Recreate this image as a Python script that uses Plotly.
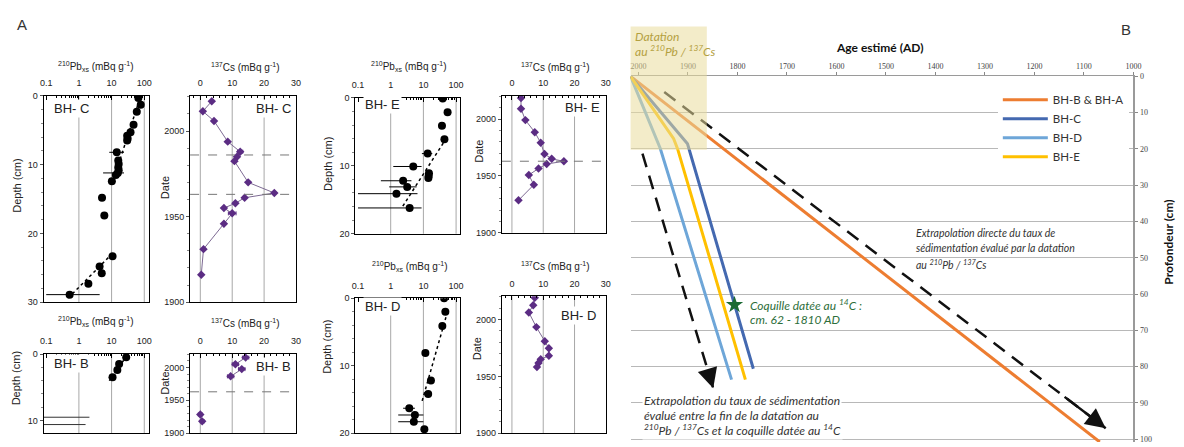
import plotly.graph_objects as go

W, H = 1184, 447

# ---------------- Panel A data ----------------
# BH-C, 210Pb excess (mBq/g) vs depth (cm)
pbC_depth = [0.3, 1.3, 2.3, 4.2, 5.3, 5.8, 6.2, 6.5, 8.2, 9.4, 9.9, 10.4, 10.8, 11.2, 11.5, 12.4, 14.8, 17.4, 23.3, 24.8, 25.8, 27.3, 28.9]
pbC_val = [66, 78, 59, 47, 38, 30, 31, 30, 14.4, 16, 16.5, 16, 16.5, 15.5, 13.5, 10.2, 5.1, 6.0, 10.7, 4.3, 5.0, 1.95, 0.52]
pbC_elo = [0, 0, 0, 0, 0, 0, 0, 0, 5.9, 3, 3, 3, 3, 10, 2, 1, 1.2, 0.5, 1, 0.6, 0.6, 0.3, 0.42]
pbC_ehi = [0, 0, 0, 0, 0, 0, 0, 0, 9.6, 4, 4, 4, 4, 8.5, 3, 1, 1.2, 0.5, 1, 0.6, 0.6, 0.3, 3.8]
pbC_fit_val = [72, 10.7, None, 10.7, 0.47]
pbC_fit_depth = [0.5, 12.6, None, 22.9, 29.4]
# BH-C, 137Cs (mBq/g) vs date
csC_year = [2017.4, 2011.5, 2005.9, 1993.8, 1987.9, 1985, 1982.4, 1970, 1963.8, 1961, 1957.8, 1955, 1951.9, 1945.8, 1931, 1916]
csC_val = [3.6, 0.8, 4.3, 8.6, 12.5, 11.5, 10.7, 15, 23.2, 13.9, 11, 7.4, 10, 7.4, 1.0, 0.3]
csC_err = [0, 0, 0, 0, 0.8, 0, 0, 0, 0, 0, 0, 0, 1.2, 0, 0, 0]

# BH-B
pbB_depth = [0.5, 1.5, 2.4, 3.5]
pbB_val = [28, 17, 15, 10.7]
pbB_err = [3, 3, 3, 2.5]
pbB_fit_val = [30, 8.5]
pbB_fit_depth = [0.2, 4.0]
pbB_lim_depth = [9.5, 10.6]
pbB_lim_upper = [2.1, 1.6]
csB_year = [2015, 2005, None, 1997.5, 1986.5, None, 1928.5, 1918]
csB_val = [14.2, 11, None, 13, 9.5, None, 0, 0.6]
csB_err = [1, 1, 0, 1, 1, 0, 0.6, 0.6]

# BH-E
pbE_depth = [0.1, 2.1, 4.1, 6.1, 8.2, 10.1, 11.1, 11.5, 11.8, 12.2, 13.1, 14.1, 16.2]
pbE_val = [39, 55, 37, 44, 13.5, 4.9, 14.8, 14.5, 14.2, 2.4, 3.2, 1.5, 3.8]
pbE_elo = [0, 0, 0, 0, 4.5, 3.7, 0, 0, 0, 1.9, 2.3, 1.4, 3.7]
pbE_ehi = [0, 0, 0, 0, 5.2, 3.9, 0, 0, 0, 1.9, 3.0, 5.1, 5.0]
pbE_fit_val = [51, 2.1]
pbE_fit_depth = [5.9, 16.3]
csE_year = [2018.6, 2009.2, 1999.2, 1988.6, 1979.2, 1969.4, 1965.1, 1962.9, 1960.6, 1956.6, 1950.9, 1942.3, 1928.6]
csE_val = [2.9, 2.9, 4.3, 7.3, 9.2, 10.4, 12.7, 16.6, 11.1, 8.5, 5.4, 7.0, 2.1]

# BH-D
pbD_depth = [0, 2.0, 4.1, 8.1, 12.2, 14.2, 16.3, 17.3, 18.3, 19.4]
pbD_val = [43, 47, 38, 11.5, 17, 14, 3.7, 5.5, 5.1, 10.7]
pbD_elo = [0, 0, 0, 0, 0, 3, 1.3, 3.8, 3.4, 2]
pbD_ehi = [0, 0, 0, 0, 0, 4, 1.8, 4.5, 4.9, 2]
pbD_fit_val = [49, 8.7]
pbD_fit_depth = [2.8, 15.6]
csD_year = [2019.3, 2012.6, 2006.3, 1993.4, 1981, 1974.7, 1968.1, 1965.2, 1961.8, 1958.3]
csD_val = [7.3, 6.8, 5.4, 7.8, 10.5, 11.8, 11.8, 9.2, 8.5, 8.0]

chernobyl_year = [1986]
bomb_year = [1963]

pb_ticks = [0.1, 1, 10, 100]
pb_ticktext = ["0.1", "1", "10", "100"]
pb_minor = [m * d for d in (0.1, 1, 10) for m in range(2, 10)]
pb_grid = [1, 10, 100]
cs_ticks = [0, 10, 20, 30]
cs_grid = [0, 10, 20]
date_ticks = [1900, 1950, 2000]

# ---------------- Panel B data ----------------
age_BA = [2016, 1068]
depth_BA = [0, 100.8]
age_C = [2016, 1910, 1901, 1768]
depth_C = [0, 17.2, 18.6, 80.6]
age_D = [2016, 1956, 1812]
depth_D = [0, 19.9, 83.6]
age_E = [2016, 1929, 1921, 1784]
depth_E = [0, 17.2, 20.0, 83.6]
arrow_direct_age = [1948, 1056]
arrow_direct_depth = [4.3, 97]
arrow_shell_age = [1992, 1849]
arrow_shell_depth = [21.3, 86]
shell_age = [1806]
shell_depth = [63]
age_ticks = list(range(2000, 999, -100))
prof_ticks = list(range(0, 101, 10))


def px(x):
    return x / W


def py(y):
    return 1 - y / H


def axn(n):
    return ("x" if n == 1 else f"x{n}", "y" if n == 1 else f"y{n}")


fig = go.Figure()

PB, CS = "pb", "cs"
panels = [
    dict(n=1, kind=PB, box=(40, 146, 93, 304), yr=[30, 0], yt=[0, 10, 20, 30]),
    dict(n=2, kind=CS, box=(188, 295, 93, 304)),
    dict(n=3, kind=PB, box=(40, 146, 357, 438), yr=[11.9, 0], yt=[0, 10]),
    dict(n=4, kind=CS, box=(188, 295, 357, 438)),
    dict(n=5, kind=PB, box=(355, 461, 95, 234), yr=[20, 0], yt=[0, 10, 20]),
    dict(n=6, kind=CS, box=(503, 608, 93, 233)),
    dict(n=7, kind=PB, box=(355, 461, 300, 438), yr=[20, 0], yt=[0, 10, 20]),
    dict(n=8, kind=CS, box=(503, 608, 298, 438)),
]

layout_axes = {}
shapes = []
for p in panels:
    n = p["n"]
    x0, x1, y0, y1 = p["box"]
    xa = dict(domain=[px(x0), px(x1)], anchor=axn(n)[1], side="top", showline=True, mirror=True,
              linecolor="black", linewidth=1, showgrid=False, zeroline=False, ticks="inside",
              ticklen=4, tickcolor="black", tickfont=dict(size=9, color="#222"), ticklabelstandoff=5)
    ya = dict(domain=[py(y1), py(y0)], anchor=axn(n)[0], showline=True, mirror=True,
              linecolor="black", linewidth=1, showgrid=False, zeroline=False, ticks="outside",
              ticklen=3, tickcolor="#555", tickfont=dict(size=9, color="#222"))
    if p["kind"] == PB:
        xa.update(type="log", range=[-1.08, 2.13], tickmode="array", tickvals=pb_ticks, ticktext=pb_ticktext,
                  minor=dict(tickmode="array", tickvals=pb_minor, ticks="inside", ticklen=2, tickcolor="black"))
        ya.update(range=p["yr"], tickmode="array", tickvals=p["yt"],
                  minor=dict(tickmode="linear", tick0=0, dtick=2, ticks="outside", ticklen=2, tickcolor="#888"))
        grid = pb_grid
    else:
        xa.update(range=[-3.2, 30], tickmode="array", tickvals=cs_ticks,
                  minor=dict(tickmode="linear", tick0=0, dtick=2, ticks="inside", ticklen=2, tickcolor="black"))
        ya.update(range=[1900, 2020.5], tickmode="array", tickvals=date_ticks,
                  minor=dict(tickmode="linear", tick0=1900, dtick=10, ticks="outside", ticklen=2, tickcolor="#888"))
        grid = cs_grid
    key = "" if n == 1 else str(n)
    layout_axes["xaxis" + key] = xa
    layout_axes["yaxis" + key] = ya
    for g in grid:
        shapes.append(dict(type="line", xref=axn(n)[0], yref=axn(n)[1] + " domain", x0=g, x1=g, y0=0, y1=1,
                           line=dict(color="#a8a8a8", width=1), layer="below"))


def add_pb(n, val, depth, elo, ehi, fval, fdepth):
    xa, ya = axn(n)
    fig.add_trace(go.Scatter(x=fval, y=fdepth, mode="lines", xaxis=xa, yaxis=ya, showlegend=False,
                             line=dict(color="black", dash="dot", width=1.5), hoverinfo="skip"))
    fig.add_trace(go.Scatter(x=val, y=depth, mode="markers", xaxis=xa, yaxis=ya, showlegend=False,
                             marker=dict(color="black", size=8),
                             error_x=dict(type="data", symmetric=False, array=ehi, arrayminus=elo,
                                          color="black", thickness=1, width=0)))


def add_cs(n, val, year, err=None):
    xa, ya = axn(n)
    ex = None
    if err is not None:
        ex = dict(type="data", array=err, color="#5b2c83", thickness=1, width=2)
    fig.add_trace(go.Scatter(x=val, y=year, mode="lines+markers", xaxis=xa, yaxis=ya, showlegend=False,
                             line=dict(color="#7d6a93", width=1),
                             marker=dict(symbol="diamond", size=6.5, color="#5b2c83"), error_x=ex))


add_pb(1, pbC_val, pbC_depth, pbC_elo, pbC_ehi, pbC_fit_val, pbC_fit_depth)
add_cs(2, csC_val, csC_year, csC_err)
add_pb(3, pbB_val, pbB_depth, pbB_err, pbB_err, pbB_fit_val, pbB_fit_depth)
for d, u in zip(pbB_lim_depth, pbB_lim_upper):
    fig.add_trace(go.Scatter(x=[0.05, u], y=[d, d], mode="lines", xaxis="x3", yaxis="y3", showlegend=False,
                             line=dict(color="#333", width=1), hoverinfo="skip"))
add_cs(4, csB_val, csB_year, csB_err)
add_pb(5, pbE_val, pbE_depth, pbE_elo, pbE_ehi, pbE_fit_val, pbE_fit_depth)
add_cs(6, csE_val, csE_year)
add_pb(7, pbD_val, pbD_depth, pbD_elo, pbD_ehi, pbD_fit_val, pbD_fit_depth)
add_cs(8, csD_val, csD_year)

# reference dates lines in Cs panels
for n, years in [(2, chernobyl_year + bomb_year), (4, bomb_year), (6, bomb_year)]:
    for yv in years:
        shapes.append(dict(type="line", xref=axn(n)[0] + " domain", yref=axn(n)[1], x0=0, x1=1, y0=yv, y1=yv,
                           line=dict(color="#777", width=1, dash="dash")))

# ---------------- Panel B ----------------
lw = 3
fig.add_trace(go.Scatter(x=age_BA, y=depth_BA, mode="lines", name="BH-B & BH-A", xaxis="x9", yaxis="y9",
                         line=dict(color="#ed7d31", width=lw)))
fig.add_trace(go.Scatter(x=age_C, y=depth_C, mode="lines", name="BH-C", xaxis="x9", yaxis="y9",
                         line=dict(color="#4469b0", width=lw)))
fig.add_trace(go.Scatter(x=age_D, y=depth_D, mode="lines", name="BH-D", xaxis="x9", yaxis="y9",
                         line=dict(color="#6ea6d8", width=lw)))
fig.add_trace(go.Scatter(x=age_E, y=depth_E, mode="lines", name="BH-E", xaxis="x9", yaxis="y9",
                         line=dict(color="#ffc000", width=lw)))
for a_age, a_dep in [(arrow_direct_age, arrow_direct_depth), (arrow_shell_age, arrow_shell_depth)]:
    fig.add_trace(go.Scatter(x=a_age, y=a_dep, mode="lines", xaxis="x9", yaxis="y9", showlegend=False,
                             line=dict(color="#111", width=2.5, dash="14px,9px"), hoverinfo="skip"))
fig.add_trace(go.Scatter(x=shell_age, y=shell_depth, mode="markers", xaxis="x9", yaxis="y9", showlegend=False,
                         marker=dict(symbol="star", size=13, color="#1d6b35")))

layout_axes["xaxis9"] = dict(domain=[px(633), px(1141)], anchor="y9", side="top", range=[2016, 1000],
                             tickmode="array", tickvals=age_ticks, ticks="outside", ticklen=3, tickcolor="#888",
                             tickfont=dict(family="Liberation Serif", size=8, color="#444"),
                             showline=True, linecolor="#9a9a9a", linewidth=1, showgrid=False, zeroline=False)
layout_axes["yaxis9"] = dict(domain=[py(447), py(73)], anchor="x9", side="right", range=[100.8, 0],
                             tickmode="array", tickvals=prof_ticks, ticks="outside", ticklen=3, tickcolor="#888",
                             tickfont=dict(family="Liberation Serif", size=8, color="#444"),
                             showline=True, linecolor="#9a9a9a", linewidth=2, showgrid=True,
                             gridcolor="#b8b8b8", gridwidth=1, zeroline=False)

# shaded 210Pb/137Cs dating window (drawn above lines, semi-transparent)
shapes.append(dict(type="rect", xref="paper", yref="paper", x0=px(633), x1=px(710), y0=py(148), y1=py(22),
                   fillcolor="rgba(233,220,157,0.55)", line=dict(width=0), layer="above"))

annotations = []


def ann(text, x, y, size=10, xanchor="center", color="#222", family=None, angle=0, bg=None, yanchor="middle"):
    d = dict(text=text, x=px(x), y=py(y), xref="paper", yref="paper", showarrow=False, xanchor=xanchor,
             yanchor=yanchor, textangle=angle, font=dict(size=size, color=color))
    if family:
        d["font"]["family"] = family
    if bg:
        d["bgcolor"] = bg
        d["borderpad"] = 1
    annotations.append(d)


PB_T = "<sup>210</sup>Pb<sub>xs</sub> (mBq g<sup>-1</sup>)"
CS_T = "<sup>137</sup>Cs (mBq g<sup>-1</sup>)"
ann("A", 18, 20, size=15, color="#333")
ann("B", 1133, 25, size=15, color="#333")
for (x, y) in [(93, 63), (93, 324), (409, 63), (410, 267)]:
    ann(PB_T, x, y, size=10)
for (x, y) in [(244, 63), (244, 325), (557, 63), (557, 267)]:
    ann(CS_T, x, y, size=10)
for (x, y) in [(13, 185), (13, 382), (328, 163), (326, 350)]:
    ann("Depth (cm)", x, y, size=11, angle=-90)
for (x, y) in [(162, 187), (163, 387), (480, 150), (478, 352)]:
    ann("Date", x, y, size=11, angle=-90)
for (t, x, y, xa) in [("BH- C", 48, 106, "left"), ("BH- C", 292, 106, "right"),
                      ("BH- B", 48, 367, "left"), ("BH- B", 292, 370, "right"),
                      ("BH- E", 363, 102, "left"), ("BH- E", 604, 105, "right"),
                      ("BH- D", 363, 308, "left"), ("BH- D", 600, 318, "right")]:
    ann(t, x, y, size=13, xanchor=xa, bg="white")

# Panel B texts
OLIVE = "#b3a040"
ann("<i>Datation</i>", 635, 32, size=12, xanchor="left", color=OLIVE, family="Lato")
ann("<i>au <sup>210</sup>Pb / <sup>137</sup>Cs</i>", 635, 47, size=12, xanchor="left", color=OLIVE, family="Lato")
ann("<b>Age estimé (AD)</b>", 885, 43, size=12, color="#111", family="Lato")
ann("<b>Profondeur (cm)</b>", 1176, 243, size=12, color="#111", family="Lato", angle=-90)
for i, t in enumerate(["<i>Extrapolation directe du taux de</i>",
                       "<i>sédimentation évalué par la datation</i>",
                       "<i>au <sup>210</sup>Pb / <sup>137</sup>Cs</i>"]):
    ann(t, 919, 233 + 16 * i, size=10.5, xanchor="left", color="#333", family="Lato")
GREEN = "#2d6e3a"
ann("<i>Coquille datée au <sup>14</sup>C :</i>", 752, 307, size=12, xanchor="left", color=GREEN, family="Lato")
ann("<i>cm. 62 - 1810 AD</i>", 752, 322, size=12, xanchor="left", color=GREEN, family="Lato")
for i, t in enumerate(["<i>Extrapolation du taux de sédimentation</i>",
                       "<i>évalué entre la fin de la datation au</i>",
                       "<i><sup>210</sup>Pb / <sup>137</sup>Cs et la coquille datée au <sup>14</sup>C</i>"]):
    ann(t, 645, 405 + 15 * i, size=12, xanchor="left", color="#333", family="Lato", bg="white")

# arrowheads at end of dashed extrapolation lines
for a_age, a_dep in [(arrow_direct_age, arrow_direct_depth), (arrow_shell_age, arrow_shell_depth)]:
    f = 0.9
    tail_age = a_age[0] + f * (a_age[1] - a_age[0])
    tail_dep = a_dep[0] + f * (a_dep[1] - a_dep[0])
    annotations.append(dict(x=a_age[1], y=a_dep[1], ax=tail_age, ay=tail_dep, xref="x9", yref="y9",
                            axref="x9", ayref="y9", text=" ", showarrow=True, arrowhead=2, arrowsize=1.6,
                            arrowwidth=2.5, arrowcolor="#111"))

fig.update_layout(
    width=W, height=H, autosize=False,
    margin=dict(l=0, r=0, t=0, b=0),
    paper_bgcolor="white", plot_bgcolor="rgba(0,0,0,0)",
    font=dict(family="Liberation Sans", size=10, color="#222"),
    shapes=shapes, annotations=annotations,
    legend=dict(x=px(1004), y=py(82), xanchor="left", yanchor="top", bgcolor="white",
                font=dict(family="Lato", size=11.5, color="#333"), itemwidth=45, tracegroupgap=0),
    **layout_axes,
)

fig.write_html("out.html", config={"displayModeBar": False},
               post_script="document.body.style.margin='0';document.body.style.overflow='hidden';")
